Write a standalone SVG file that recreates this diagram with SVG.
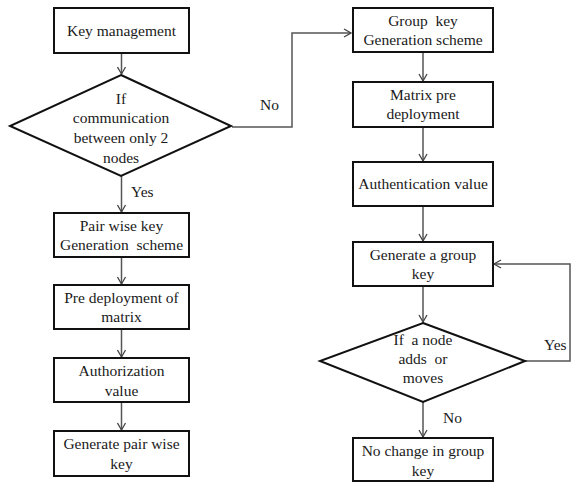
<svg xmlns="http://www.w3.org/2000/svg" width="572" height="485" viewBox="0 0 572 485">
<defs>
<marker id="arr" markerWidth="10" markerHeight="10" refX="8" refY="5" orient="auto" markerUnits="userSpaceOnUse">
<path d="M1,1 L8,5 L1,9" fill="none" stroke="#444" stroke-width="1.3"/>
</marker>
<style>
.box{fill:#fff;stroke:#111;stroke-width:2}
.c{fill:none;stroke:#555;stroke-width:1.5}
text{font-family:'Liberation Serif','Times New Roman',Times,serif;font-size:15.5px;fill:#1a1a1a}
.t{text-anchor:middle}
</style>
</defs>
<rect width="572" height="485" fill="#fff"/>
<g id="connectors">
<path class="c" d="M121.5,53 V74" marker-end="url(#arr)"/>
<path class="c" d="M232,127 H292 V33 H351" marker-end="url(#arr)"/>
<path class="c" d="M121.5,176 V212" marker-end="url(#arr)"/>
<path class="c" d="M121.5,257 V284" marker-end="url(#arr)"/>
<path class="c" d="M121.5,329 V357" marker-end="url(#arr)"/>
<path class="c" d="M121.5,402 V430" marker-end="url(#arr)"/>
<path class="c" d="M423,52 V81" marker-end="url(#arr)"/>
<path class="c" d="M423,127 V161" marker-end="url(#arr)"/>
<path class="c" d="M423,206 V241" marker-end="url(#arr)"/>
<path class="c" d="M423,286 V322" marker-end="url(#arr)"/>
<path class="c" d="M423,402 V437" marker-end="url(#arr)"/>
<path class="c" d="M525,361 H570 V264 H494" marker-end="url(#arr)"/>
<text x="260" y="110">No</text>
<text x="131" y="197">Yes</text>
<text x="544" y="350">Yes</text>
<text x="443" y="423">No</text>
</g>
<g id="key-management">
<rect class="box" x="54" y="8" width="135" height="45"/>
<text class="t" x="121.5" y="36">Key management</text>
</g>
<g id="decision-two-nodes">
<polygon class="box" points="121,75 231,126 121,176 10,126"/>
<text class="t" x="121" y="104">If</text>
<text class="t" x="121" y="123">communication</text>
<text class="t" x="121" y="143">between only 2</text>
<text class="t" x="121" y="163">nodes</text>
</g>
<g id="pairwise-scheme">
<rect class="box" x="54" y="213" width="135" height="44"/>
<text class="t" x="121.5" y="231">Pair wise key</text>
<text class="t" x="121.5" y="250" xml:space="preserve">Generation  scheme</text>
</g>
<g id="pre-deployment">
<rect class="box" x="54" y="285" width="135" height="44"/>
<text class="t" x="121.5" y="303">Pre deployment of</text>
<text class="t" x="121.5" y="322">matrix</text>
</g>
<g id="authorization">
<rect class="box" x="54" y="358" width="135" height="44"/>
<text class="t" x="121.5" y="376">Authorization</text>
<text class="t" x="121.5" y="396">value</text>
</g>
<g id="generate-pairwise">
<rect class="box" x="54" y="431" width="135" height="45"/>
<text class="t" x="121.5" y="449">Generate pair wise</text>
<text class="t" x="121.5" y="469">key</text>
</g>
<g id="group-scheme">
<rect class="box" x="353" y="8" width="140" height="44"/>
<text class="t" x="423" y="26" xml:space="preserve">Group  key</text>
<text class="t" x="423" y="45">Generation scheme</text>
</g>
<g id="matrix-pre">
<rect class="box" x="353" y="82" width="140" height="45"/>
<text class="t" x="423" y="100">Matrix pre</text>
<text class="t" x="423" y="119">deployment</text>
</g>
<g id="authentication">
<rect class="box" x="353" y="162" width="140" height="44"/>
<text class="t" x="423" y="189">Authentication value</text>
</g>
<g id="generate-group">
<rect class="box" x="353" y="242" width="140" height="44"/>
<text class="t" x="423" y="260">Generate a group</text>
<text class="t" x="423" y="279">key</text>
</g>
<g id="decision-node-moves">
<polygon class="box" points="423,323 525,361 423,402 320,361"/>
<text class="t" x="423" y="345" xml:space="preserve">If  a node</text>
<text class="t" x="423" y="364" xml:space="preserve">adds  or</text>
<text class="t" x="423" y="383">moves</text>
</g>
<g id="no-change">
<rect class="box" x="353" y="438" width="140" height="43"/>
<text class="t" x="423" y="456">No change in group</text>
<text class="t" x="423" y="476">key</text>
</g>
</svg>
